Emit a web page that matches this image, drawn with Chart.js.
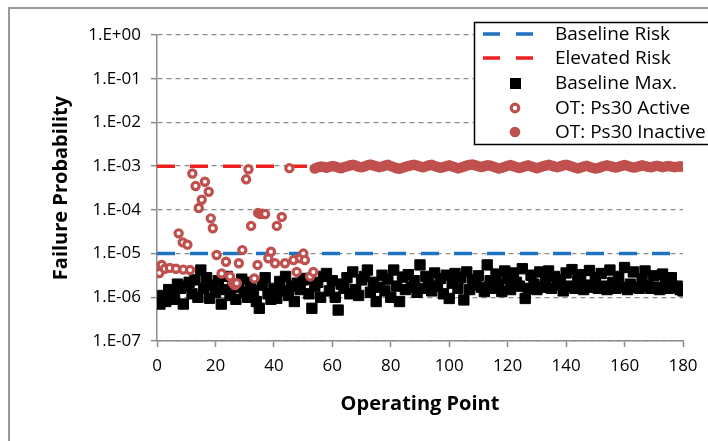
<!DOCTYPE html>
<html>
<head>
<meta charset="utf-8">
<script src="https://cdn.jsdelivr.net/npm/chart.js@4"></script>
<style>
  body { margin: 0; background: #fff; }
  #grafica { display: block; }
</style>
</head>
<body>
<canvas id="grafica" width="708" height="441"></canvas>
<script>
// Datos
const yTickValues = [1e-7, 1e-6, 1e-5, 1e-4, 1e-3, 1e-2, 1e-1, 1e0];
const yTickLabels = ['1.E-07', '1.E-06', '1.E-05', '1.E-04', '1.E-03', '1.E-02', '1.E-01', '1.E+00'];

const lineaX = [0, 180];
const riesgoBase = 1e-5;
const riesgoElevado = 1e-3;

// Baseline Max., puntos de operacion 1..180 (x1e-6)
const baselineMax = [
  0.7, 1.1, 0.8, 1.5, 1.3, 0.9, 2.0, 1.6, 0.7, 1.8,
  2.2, 1.2, 2.5, 1.0, 4.2, 1.6, 2.8, 0.95, 1.9, 1.3,
  2.4, 0.7, 1.5, 3.0, 1.1, 2.0, 0.9, 1.7, 2.6, 1.3,
  1.0, 2.2, 1.4, 0.8, 0.56, 1.9, 2.8, 1.2, 0.9, 1.6,
  0.95, 2.3, 1.4, 3.0, 1.1, 1.8, 0.8, 2.1, 1.5, 2.5,
  2.7, 1.2, 0.56, 1.8, 2.2, 1.0, 3.0, 3.5, 1.4, 2.4,
  1.0, 0.51, 2.0, 1.6, 2.8, 1.2, 3.8, 1.5, 1.1, 2.5,
  3.0, 4.2, 1.3, 2.2, 0.8, 1.7, 3.2, 1.4, 2.6, 1.0,
  4.2, 1.8, 0.8, 2.9, 1.5, 3.3, 1.7, 2.4, 1.3, 5.5,
  1.6, 3.0, 2.0, 1.4, 3.6, 1.8, 2.7, 1.2, 3.2, 0.94,
  2.1, 3.5, 1.6, 2.8, 0.87, 3.8, 1.5, 2.5, 1.9, 3.1,
  1.7, 1.35, 5.5, 2.4, 1.6, 3.4, 2.0, 1.35, 4.0, 2.7,
  1.5, 3.6, 2.2, 1.8, 4.5, 0.94, 1.6, 3.2, 2.0, 1.5,
  3.8, 1.7, 2.6, 4.0, 1.6, 3.0, 1.9, 2.5, 1.4, 3.6,
  1.8, 4.3, 1.6, 2.4, 3.3, 1.5, 1.9, 4.1, 1.7, 2.8,
  1.6, 3.5, 1.8, 1.5, 4.2, 2.2, 1.6, 3.0, 1.7, 4.8,
  1.5, 2.0, 3.8, 1.7, 1.6, 2.6, 4.0, 1.8, 1.6, 3.1,
  1.7, 1.5, 3.4, 2.0, 1.6, 2.8, 1.7, 1.8, 1.5, 1.4
];

// OT: Ps30 Active
const activoX = [0.8, 1.6, 2.7, 4.4, 6.5, 7.4, 8.8, 9.0, 10.4, 11.3,
  12.1, 13.2, 14.3, 15.3, 16.4, 17.7, 18.4, 19.1, 20.4, 22.1,
  23.6, 25.0, 26.0, 26.7, 27.3, 28.0, 29.2, 30.5, 31.3, 32.2,
  33.3, 34.4, 34.6, 35.4, 36.2, 37.0, 38.1, 39.0, 40.4, 41.0,
  42.7, 43.8, 45.3, 46.7, 47.8, 49.0, 50.1, 50.6, 52.4, 53.5];
const activoY = [3.6e-6, 5.5e-6, 4.5e-6, 4.7e-6, 4.5e-6, 2.9e-5, 1.8e-5, 4.3e-6, 1.6e-5, 4.2e-6,
  6.8e-4, 3.5e-4, 1.1e-4, 1.7e-4, 4.4e-4, 2.6e-4, 6.4e-5, 3.8e-5, 9.3e-6, 3.5e-6,
  6.5e-6, 3.0e-6, 2.1e-6, 1.9e-6, 2.1e-6, 6.0e-6, 1.2e-5, 5.0e-4, 8.5e-4, 4.3e-5,
  2.7e-6, 5.5e-6, 8.5e-5, 8.0e-5, 8.2e-5, 8.0e-5, 7.8e-6, 1.1e-5, 6.0e-6, 4.3e-5,
  6.9e-5, 6.0e-6, 9.0e-4, 7.1e-6, 3.8e-6, 7.8e-6, 1.0e-5, 7.1e-6, 3.0e-6, 3.8e-6];

// OT: Ps30 Inactive, puntos 54..180 (x1e-3)
const inicioInactivo = 54;
const inactivo = [
  0.88, 0.94, 0.98, 0.96, 0.92, 0.97, 1.01, 0.98, 0.93, 0.90,
  0.95, 0.99, 1.04, 1.08, 1.03, 0.97, 0.94, 0.98, 1.05, 1.09,
  1.04, 0.99, 0.95, 0.98, 1.03, 1.07, 1.01, 0.95, 0.90, 0.87,
  0.92, 0.97, 1.01, 1.05, 1.08, 1.03, 0.98, 0.94, 0.99, 1.04,
  1.07, 1.01, 0.96, 0.92, 0.95, 1.00, 1.04, 0.99, 0.94, 0.89,
  0.93, 0.98, 1.03, 1.07, 1.09, 1.04, 0.99, 0.96, 1.00, 1.05,
  1.03, 0.98, 0.93, 0.88, 0.92, 0.97, 1.02, 1.06, 1.00, 0.95,
  0.91, 0.95, 1.00, 1.04, 0.99, 0.94, 0.90, 0.94, 0.99, 1.03,
  1.07, 1.03, 0.98, 0.95, 0.99, 1.04, 1.08, 1.03, 0.98, 0.93,
  0.89, 0.93, 0.98, 1.02, 0.97, 0.92, 0.88, 0.91, 0.96, 1.01,
  1.05, 1.01, 0.96, 0.93, 0.97, 1.02, 1.06, 1.02, 0.97, 0.93,
  0.95, 1.00, 1.04, 1.01, 0.97, 0.94, 0.98, 1.02, 0.99, 0.95,
  0.98, 1.01, 0.98, 0.95, 0.97, 0.99, 0.97
];

const AZUL = '#1f73c0';
const ROJO = '#f02020';
const ROJO_PUNTO = '#c0504d';
const GRIS = '#8c8c8c';

const fuente = "'Open Sans', sans-serif";

// Marco exterior y fondo
const fondo = {
  id: 'fondo',
  beforeDraw(chart) {
    const ctx = chart.ctx;
    ctx.save();
    ctx.fillStyle = '#fff';
    ctx.fillRect(0, 0, chart.width, chart.height);
    ctx.strokeStyle = '#9a9a9a';
    ctx.lineWidth = 2;
    ctx.beginPath();
    ctx.moveTo(9, chart.height + 5);
    ctx.lineTo(9, 8);
    ctx.lineTo(chart.width + 5, 8);
    ctx.stroke();
    ctx.restore();
  }
};

// Leyenda dibujada dentro del area
const leyenda = {
  id: 'leyenda',
  afterDraw(chart) {
    const ctx = chart.ctx;
    const ds = chart.data.datasets;
    const filas = [34, 58, 83, 108, 132];
    ctx.save();
    ctx.fillStyle = '#fff';
    ctx.fillRect(474, 22, 260, 123);
    ctx.strokeStyle = '#000';
    ctx.lineWidth = 1.5;
    ctx.strokeRect(474.5, 22.5, 260, 122);
    ds.forEach((d, i) => {
      const y = filas[i];
      if (d.showLine) {
        ctx.strokeStyle = d.borderColor;
        ctx.lineWidth = 3.5;
        ctx.beginPath();
        ctx.moveTo(483, y); ctx.lineTo(500, y);
        ctx.moveTo(516, y); ctx.lineTo(533, y);
        ctx.stroke();
      } else if (d.pointStyle === 'rect') {
        ctx.fillStyle = '#000';
        ctx.fillRect(510, y - 5, 11, 11);
      } else if (d.pointBackgroundColor === '#fff') {
        ctx.strokeStyle = ROJO_PUNTO;
        ctx.lineWidth = 3.2;
        ctx.beginPath(); ctx.arc(515, y, 3.8, 0, Math.PI * 2); ctx.stroke();
      } else {
        ctx.fillStyle = ROJO_PUNTO;
        ctx.beginPath(); ctx.arc(515, y, 5.3, 0, Math.PI * 2); ctx.fill();
      }
      ctx.fillStyle = '#000';
      ctx.font = '19px ' + fuente;
      ctx.textBaseline = 'middle';
      ctx.fillText(d.label, 555, y + 1);
    });
    ctx.restore();
  }
};

const ctx = document.getElementById('grafica').getContext('2d');

new Chart(ctx, {
  type: 'scatter',
  data: {
    datasets: [
      {
        label: 'Baseline Risk',
        data: lineaX.map(x => ({ x: x, y: riesgoBase })),
        showLine: true,
        borderColor: AZUL,
        borderWidth: 3.5,
        borderDash: [18, 15],
        pointRadius: 0,
        order: 5
      },
      {
        label: 'Elevated Risk',
        data: lineaX.map(x => ({ x: x, y: riesgoElevado })),
        showLine: true,
        borderColor: ROJO,
        borderWidth: 3.5,
        borderDash: [18, 15],
        pointRadius: 0,
        order: 4
      },
      {
        label: 'Baseline Max.',
        data: baselineMax.map((v, i) => ({ x: i + 1, y: v * 1e-6 })),
        pointStyle: 'rect',
        pointRadius: 7.3,
        pointBackgroundColor: '#000',
        pointBorderColor: '#000',
        pointBorderWidth: 1,
        order: 3
      },
      {
        label: 'OT: Ps30 Active',
        data: activoX.map((x, i) => ({ x: x, y: activoY[i] })),
        pointStyle: 'circle',
        pointRadius: 3.6,
        pointBackgroundColor: '#fff',
        pointBorderColor: ROJO_PUNTO,
        pointBorderWidth: 3.2,
        order: 2
      },
      {
        label: 'OT: Ps30 Inactive',
        data: inactivo.map((v, i) => ({ x: inicioInactivo + i, y: v * 1e-3 })),
        pointStyle: 'circle',
        pointRadius: 5.3,
        pointBackgroundColor: ROJO_PUNTO,
        pointBorderColor: ROJO_PUNTO,
        pointBorderWidth: 0,
        order: 1
      }
    ]
  },
  options: {
    responsive: false,
    animation: false,
    layout: { padding: { top: 35, right: 25, left: 0, bottom: 0 } },
    plugins: {
      legend: { display: false },
      tooltip: { enabled: false }
    },
    scales: {
      x: {
        type: 'linear',
        min: 0,
        max: 180,
        afterFit: s => { s.height = 100; },
        ticks: {
          stepSize: 20,
          color: '#000',
          padding: 9,
          font: { family: fuente, size: 17 }
        },
        grid: {
          drawOnChartArea: false,
          drawTicks: true,
          tickLength: 6,
          tickColor: GRIS,
          tickWidth: 1.5
        },
        border: { display: true, color: GRIS, width: 1.5 },
        title: {
          display: true,
          text: 'Operating Point',
          color: '#000',
          font: { family: fuente, size: 20, weight: 'bold' },
          padding: { top: 0, bottom: 25 }
        }
      },
      y: {
        type: 'logarithmic',
        min: 1e-7,
        max: 1,
        afterFit: s => { s.width = 157; },
        afterBuildTicks: s => { s.ticks = yTickValues.map(v => ({ value: v })); },
        ticks: {
          color: '#000',
          padding: 10,
          font: { family: fuente, size: 17 },
          callback: (v, i) => yTickLabels[i]
        },
        grid: {
          color: GRIS,
          lineWidth: 1.3,
          drawTicks: true,
          tickLength: 6,
          tickColor: GRIS,
          tickWidth: 1.5
        },
        border: { display: true, color: GRIS, width: 1.5, dash: [5, 4] },
        title: {
          display: true,
          text: 'Failure Probability',
          color: '#000',
          font: { family: fuente, size: 20, weight: 'bold' },
          padding: { top: 49, bottom: 0 }
        }
      }
    }
  },
  plugins: [fondo, leyenda]
});
</script>
</body>
</html>
